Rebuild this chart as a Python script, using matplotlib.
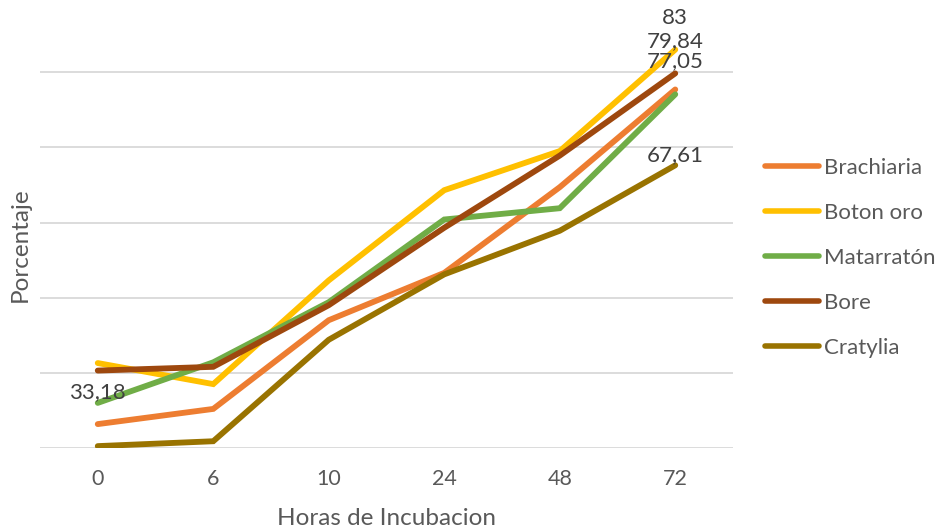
import matplotlib
matplotlib.use("Agg")
import matplotlib.pyplot as plt

plt.rcParams['font.family'] = ['Lato', 'DejaVu Sans']

horas = ["0", "6", "10", "24", "48", "72"]

brachiaria = [33.18, 35.2, 47.0, 53.3, 64.7, 77.7]
boton_oro = [41.3, 38.5, 52.3, 64.3, 69.5, 83.0]
matarraton = [36.0, 41.4, 49.4, 60.4, 61.9, 77.05]
bore = [40.3, 40.8, 49.0, 59.3, 68.9, 79.84]
cratylia = [30.25, 30.9, 44.4, 53.1, 58.9, 67.61]

series = [
    ("Brachiaria", brachiaria, "#ED7D31"),
    ("Boton oro", boton_oro, "#FFC000"),
    ("Matarratón", matarraton, "#70AD47"),
    ("Bore", bore, "#9E480E"),
    ("Cratylia", cratylia, "#997300"),
]

# data labels: (series values, index, text, pixel offset above point)
etiquetas = [
    (boton_oro, 5, "83", 32),
    (bore, 5, "79,84", 32),
    (matarraton, 5, "77,05", 33),
    (cratylia, 5, "67,61", 10),
    (brachiaria, 0, "33,18", 32),
]

fig = plt.figure(figsize=(9.37, 5.31), dpi=100)
ax = fig.add_axes([40 / 937, 83 / 531, 693 / 937, 451 / 531])

x = list(range(len(horas)))
for nombre, vals, color in series:
    ax.plot(x, vals, color=color, linewidth=4.2, label=nombre, solid_capstyle='round', solid_joinstyle='miter')

for vals, i, txt, off in etiquetas:
    ax.annotate(txt, (i, vals[i]), xytext=(0, off), textcoords='offset pixels',
                ha='center', va='center', fontsize=16, color='#404040')

ax.set_xlim(-0.5, 5.5)
ax.set_ylim(30, 90)
ax.set_yticks([30, 40, 50, 60, 70, 80])
ax.set_yticklabels([])
ax.grid(axis='y', color='#D9D9D9', linewidth=1.3)
ax.set_axisbelow(True)
ax.tick_params(axis='both', length=0)
ax.set_xticks(x)
ax.set_xticklabels(horas, fontsize=15.5, color='#595959')
ax.tick_params(axis='x', pad=15)
for s in ax.spines.values():
    s.set_visible(False)

ax.set_xlabel("Horas de Incubacion", fontsize=17.5, color='#595959', labelpad=14)
fig.text(20 / 937, 1 - 245 / 531, "Porcentaje", rotation=90, fontsize=17.5,
         color='#595959', ha='center', va='center')

leg = fig.legend(loc='upper left', bbox_to_anchor=(745 / 937, 1 - 138 / 531),
                 frameon=False, fontsize=16, labelcolor='#595959',
                 handlelength=2.45, handletextpad=0.2, labelspacing=1.12)
for h in leg.get_lines():
    h.set_linewidth(4)

fig.savefig("out.png", dpi=100)
